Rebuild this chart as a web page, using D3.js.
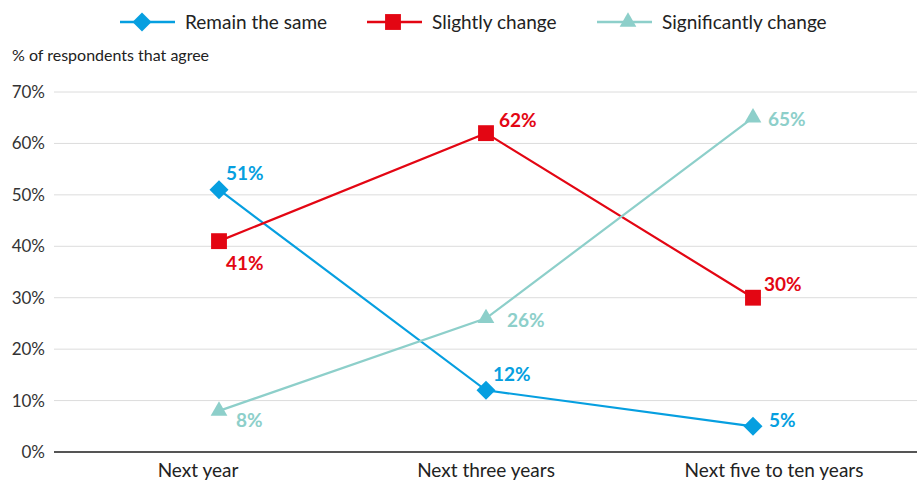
<!DOCTYPE html>
<html><head><meta charset="utf-8">
<script src="https://cdn.jsdelivr.net/npm/d3@7"></script>
<style>body{margin:0;background:#fff;}text{font-family:Lato,"Open Sans",sans-serif;}</style>
</head><body>
<svg id="c" width="922" height="481"></svg>
<script>
const categories = ["Next year","Next three years","Next five to ten years"];
const seriesNames = ["Remain the same","Slightly change","Significantly change"];
const remainSame = [51,12,5];
const slightlyChange = [41,62,30];
const significantlyChange = [8,26,65];
const yTicks = [0,10,20,30,40,50,60,70];
const colors = ["#069fe0","#e30613","#8dcfca"];
const symbols = [d3.symbolDiamond2, d3.symbolSquare2, d3.symbolTriangle2];
// label offsets (dx, dy) relative to marker
const labelOffsets = [
  [[7,-10],[7,-9],[16,1]],
  [[7,29],[13,-6],[11,-7]],
  [[17,16],[21,9],[15,8]]
];
const series = [remainSame, slightlyChange, significantlyChange];

(function(){
const svg = d3.select("#c");
const mLeft = 54, mRight = 918, mTop = 92, mBottom = 452;
const y = d3.scaleLinear().domain([0,70]).range([mBottom, mTop]);
const xBand = d3.scaleBand().domain(categories).range([mLeft, mRight]);
const xPt = d3.scalePoint().domain(categories).range([mLeft, mRight]).padding(0.618);

svg.append("g").selectAll("line").data(yTicks.filter(t=>t>0)).join("line")
  .attr("x1", mLeft).attr("x2", mRight-1).attr("y1", d=>y(d)).attr("y2", d=>y(d))
  .attr("stroke", "#dcdcdc").attr("stroke-width", 1);
svg.append("g").selectAll("text").data(yTicks).join("text")
  .attr("x", 45).attr("y", d=>y(d)+6).attr("text-anchor","end")
  .attr("font-size", 17).attr("fill","#333").text(d=>d+"%");
svg.append("line").attr("x1", mLeft).attr("x2", mRight-1).attr("y1", y(0)).attr("y2", y(0))
  .attr("stroke","#555").attr("stroke-width",2);
svg.append("g").selectAll("text").data(categories).join("text")
  .attr("x", d=>xBand(d)+xBand.bandwidth()/2).attr("y", 477).attr("text-anchor","middle")
  .attr("font-size", 19).attr("fill","#222").text(d=>d);

svg.append("text").attr("x", 12).attr("y", 61).attr("font-size", 16).attr("fill","#222")
  .text("% of respondents that agree");

const line = d3.line().x((d,i)=>xPt(categories[i])).y(d=>y(d));
series.forEach((s, si) => {
  svg.append("path").datum(s).attr("d", line).attr("fill","none")
    .attr("stroke", colors[si]).attr("stroke-width", 2.2);
});
const symSize = [230,320,200];
series.forEach((s, si) => {
  const g = svg.append("g");
  g.selectAll("path").data(s).join("path")
    .attr("d", d3.symbol().type(symbols[si]).size(symSize[si]))
    .attr("transform", (d,i)=>`translate(${xPt(categories[i])},${y(d)})`)
    .attr("fill", colors[si]);
  g.selectAll("text").data(s).join("text")
    .attr("x", (d,i)=>xPt(categories[i]) + labelOffsets[si][i][0])
    .attr("y", (d,i)=>y(d) + labelOffsets[si][i][1])
    .attr("font-size", 19).attr("font-weight","bold").attr("fill", colors[si])
    .text(d=>d+"%");
});

const legendX = [120, 367, 597];
seriesNames.forEach((n, si) => {
  const g = svg.append("g").attr("transform", `translate(${legendX[si]},22)`);
  g.append("line").attr("x1",0).attr("x2",55).attr("y1",0).attr("y2",0)
    .attr("stroke", colors[si]).attr("stroke-width", 2.5);
  g.append("path").attr("d", d3.symbol().type(symbols[si]).size(symSize[si])())
    .attr("transform",`translate(${si===0?22:si===1?26:31},0)`).attr("fill", colors[si]);
  g.append("text").attr("x", 65).attr("y", 6.5).attr("font-size", 19).attr("fill","#222").text(n);
});
})();
</script>
</body></html>
